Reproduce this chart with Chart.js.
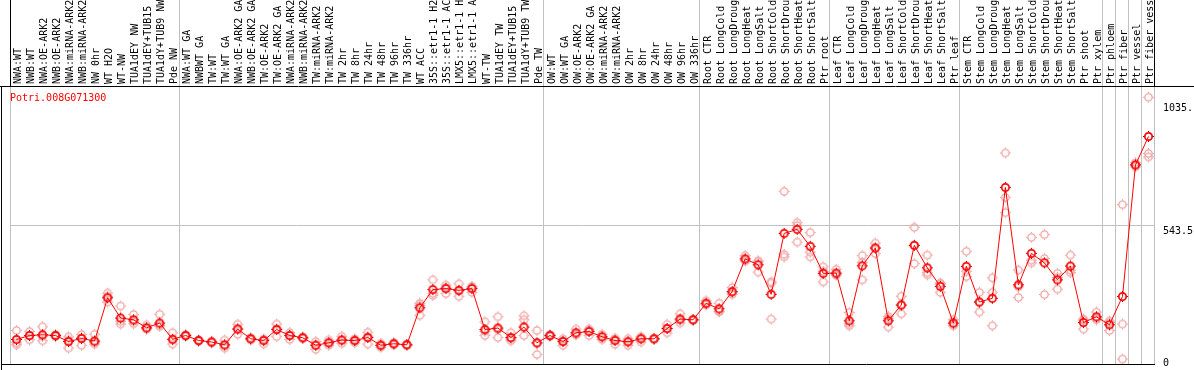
<!DOCTYPE html>
<html>
<head>
<meta charset="utf-8">
<script src="https://cdn.jsdelivr.net/npm/chart.js@4"></script>
<style>
  html, body { margin: 0; padding: 0; background: #fff; overflow: hidden; }
  canvas { display: block; }
</style>
</head>
<body>
<canvas id="chart" width="1194" height="370"></canvas>
<script>
// gene shown in the plot
const geneId = 'Potri.008G071300';

const categories = [
  'NWA:WT', 'NWB:WT', 'NWA:OE-ARK2', 'NWB:OE-ARK2', 'NWA:miRNA-ARK2', 'NWB:miRNA-ARK2',
  'NW 0hr', 'WT H2O', 'WT-NW', 'TUA1dEY NW', 'TUA1dEY+TUB15 NW', 'TUA1dY+TUB9 NW', 'Pde NW',
  'NWA:WT GA', 'NWBWT GA', 'TW:WT', 'TW:WT GA', 'NWA:OE-ARK2 GA', 'NWB:OE-ARK2 GA',
  'TW:OE-ARK2', 'TW:OE-ARK2 GA', 'NWA:miRNA-ARK2', 'NWB:miRNA-ARK2', 'TW:miRNA-ARK2',
  'TW:miRNA-ARK2', 'TW 2hr', 'TW 8hr', 'TW 24hr', 'TW 48hr', 'TW 96hr', 'TW 336hr',
  'WT ACC', '35S::etr1-1 H2O', '35S::etr1-1 ACC', 'LMX5::etr1-1 H2O', 'LMX5::etr1-1 ACC',
  'WT-TW', 'TUA1dEY TW', 'TUA1dEY+TUB15 TW', 'TUA1dY+TUB9 TW', 'Pde TW',
  'OW:WT', 'OW:WT GA', 'OW:OE-ARK2', 'OW:OE-ARK2 GA', 'OW:miRNA-ARK2', 'OW:miRNA-ARK2',
  'OW 2hr', 'OW 8hr', 'OW 24hr', 'OW 48hr', 'OW 96hr', 'OW 336hr',
  'Root CTR', 'Root LongCold', 'Root LongDrought', 'Root LongHeat', 'Root LongSalt',
  'Root ShortCold', 'Root ShortDrought', 'Root ShortHeat', 'Root ShortSalt', 'Ptr root',
  'Leaf CTR', 'Leaf LongCold', 'Leaf LongDrought', 'Leaf LongHeat', 'Leaf LongSalt',
  'Leaf ShortCold', 'Leaf ShortDrought', 'Leaf ShortHeat', 'Leaf ShortSalt', 'Ptr leaf',
  'Stem CTR', 'Stem LongCold', 'Stem LongDrought', 'Stem LongHeat', 'Stem LongSalt',
  'Stem ShortCold', 'Stem ShortDrought', 'Stem ShortHeat', 'Stem ShortSalt', 'Ptr shoot',
  'Ptr xylem', 'Ptr phloem', 'Ptr fiber', 'Ptr vessel', 'Ptr fiber vessel'
];

// mean expression (red line)
const meanValues = [
  87, 103, 106, 103, 79, 91, 81, 254, 173, 166, 134, 153, 88,
  103, 83, 77, 66, 129, 90, 83, 127, 103, 94, 64, 74, 85, 83, 95, 64, 70, 66,
  214, 287, 291, 284, 291, 127, 133, 95, 137, 74,
  103, 79, 114, 119, 98, 83, 78, 90, 90, 131, 169, 166,
  232, 210, 279, 410, 386, 268, 512, 528, 460, 352,
  353, 162, 382, 453, 162, 225, 464, 374, 300, 153,
  380, 237, 252, 696, 306, 432, 394, 326, 381, 155, 178,
  146, 259, 786, 900
];

// replicates (pale circles)
const rep1 = [
  123, 119, 138, 107, 98, 107, 108, 273, 221, 187, 145, 188, 114,
  107, 86, 80, 85, 148, 94, 88, 149, 115, 97, 79, 85, 100, 90, 116, 72, 74, 68,
  232, 326, 305, 310, 300, 158, 178, 114, 182, 123,
  107, 90, 129, 129, 108, 92, 90, 98, 92, 148, 190, 168,
  242, 232, 295, 423, 402, 313, 680, 555, 515, 378,
  368, 195, 423, 473, 179, 260, 536, 425, 313, 166,
  440, 276, 334, 834, 365, 496, 507, 352, 425, 169, 197,
  161, 627, 795, 1057
];
const rep2 = [
  66, 86, 82, 98, 53, 64, 69, 237, 149, 150, 129, 140, 69,
  100, 80, 74, 53, 108, 86, 69, 99, 87, 91, 48, 64, 72, 74, 69, 56, 66, 64,
  184, 263, 271, 260, 276, 103, 95, 90, 166, 27,
  100, 64, 106, 103, 87, 68, 64, 77, 88, 114, 153, 164,
  226, 200, 268, 402, 357, 169, 428, 543, 437, 318,
  347, 142, 326, 431, 137, 190, 391, 346, 276, 142,
  339, 197, 276, 656, 255, 394, 267, 289, 355, 129, 166,
  123, 149, 778, 832
];
const rep3 = [
  74, 103, 100, 103, 85, 95, 75, 260, 160, 160, 130, 145, 85,
  103, 83, 77, 62, 130, 90, 88, 130, 105, 94, 66, 74, 85, 83, 98, 64, 70, 66,
  224, 272, 296, 282, 297, 120, 127, 82, 103, 72,
  103, 82, 108, 125, 98, 88, 80, 94, 90, 131, 164, 166,
  228, 198, 275, 405, 398, 318, 418, 477, 418, 360,
  345, 150, 396, 455, 170, 225, 464, 355, 310, 150,
  360, 237, 142, 595, 298, 405, 411, 336, 365, 165, 172,
  155, 9, 786, 818
];

const yTickValues = [0, 543.5, 1035];
const yTickLabels = ['0', '543.5', '1035.'];
// first category of each block, a grey rule is drawn on its left
const groupStarts = [0, 13, 41, 53, 63, 73, 84, 85, 86, 87];

function makeMarker(ring, tick, lw) {
  const c = document.createElement('canvas');
  c.width = 13; c.height = 13;
  const g = c.getContext('2d');
  g.strokeStyle = ring;
  g.lineWidth = lw;
  g.beginPath();
  g.arc(6.5, 6.5, 3.7, 0, Math.PI * 2);
  g.stroke();
  g.fillStyle = tick;
  g.fillRect(6, 1, 1, 1);
  g.fillRect(6, 11, 1, 1);
  g.fillRect(1, 6, 1, 1);
  g.fillRect(11, 6, 1, 1);
  return c;
}
const mainMarker = makeMarker('#ff0000', '#a00000', 1.7);
const repMarker = makeMarker('#f0a0a0', '#f0a0a0', 1.3);

const MONO = '"DejaVu Sans Mono", monospace';

function repSet(data) {
  return {
    data: data,
    showLine: false,
    pointStyle: repMarker,
    pointRadius: 5,
    order: 2
  };
}

const framePlugin = {
  id: 'frame',
  afterDraw(chart) {
    const ctx = chart.ctx;
    const y = chart.scales.y;
    const area = chart.chartArea;
    ctx.save();
    ctx.strokeStyle = '#000';
    ctx.lineWidth = 1;
    ctx.beginPath();
    ctx.moveTo(0, area.top + 0.5); ctx.lineTo(1194, area.top + 0.5);
    ctx.moveTo(1.5, area.top); ctx.lineTo(1.5, 370);
    ctx.moveTo(1, area.bottom + 0.5); ctx.lineTo(area.right, area.bottom + 0.5);
    ctx.moveTo(area.left + 0.5, 0); ctx.lineTo(area.left + 0.5, area.top);
    ctx.moveTo(area.right - 0.5, 0); ctx.lineTo(area.right - 0.5, area.top);
    ctx.stroke();

    ctx.font = '10px ' + MONO;
    ctx.fillStyle = '#ff0000';
    ctx.textBaseline = 'alphabetic';
    ctx.textAlign = 'left';
    ctx.fillText(geneId, 10, 101);

    ctx.fillStyle = '#000';
    ctx.textBaseline = 'top';
    yTickValues.forEach((v, i) => {
      let py = y.getPixelForValue(v) + 1;
      if (py > 358) py = 358;
      ctx.fillText(yTickLabels[i], 1163, py);
    });
    ctx.restore();
  }
};

new Chart(document.getElementById('chart'), {
  type: 'line',
  data: {
    labels: categories,
    datasets: [
      {
        data: meanValues,
        borderColor: '#ff0000',
        borderWidth: 1,
        pointStyle: mainMarker,
        pointRadius: 5,
        tension: 0,
        order: 1
      },
      repSet(rep1),
      repSet(rep2),
      repSet(rep3)
    ]
  },
  options: {
    responsive: false,
    animation: false,
    devicePixelRatio: 1,
    layout: { padding: { left: 10, right: 39, top: 0, bottom: 1 } },
    plugins: {
      legend: { display: false },
      tooltip: { enabled: false }
    },
    scales: {
      x: {
        position: 'top',
        offset: true,
        border: { display: false },
        grid: {
          offset: true,
          drawTicks: true,
          tickLength: 86,
          color: ctx => (ctx.tick === undefined || groupStarts.includes(ctx.index)) ? '#c0c0c0' : 'rgba(0,0,0,0)',
          tickColor: ctx => (ctx.tick === undefined || groupStarts.includes(ctx.index)) ? '#c0c0c0' : 'rgba(0,0,0,0)'
        },
        ticks: {
          autoSkip: false,
          minRotation: 90,
          maxRotation: 90,
          padding: -84,
          labelOffset: 14,
          color: '#000',
          font: { family: MONO, size: 10 }
        },
        afterFit(scale) { scale.height = 86; }
      },
      y: {
        position: 'right',
        min: -11,
        max: 1102,
        border: { display: false },
        grid: {
          drawTicks: false,
          color: ctx => (ctx.tick && ctx.tick.value === 543.5) ? '#c0c0c0' : 'rgba(0,0,0,0)'
        },
        ticks: { display: false },
        afterBuildTicks(scale) {
          scale.ticks = yTickValues.map(v => ({ value: v }));
        },
        afterFit(scale) { scale.width = 0; }
      }
    }
  },
  plugins: [framePlugin]
});
</script>
</body>
</html>
